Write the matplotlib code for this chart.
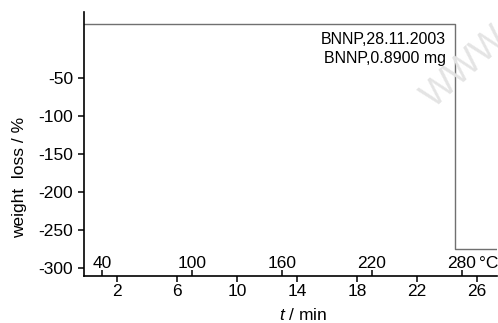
import matplotlib
matplotlib.use('Agg')
import matplotlib.pyplot as plt
from matplotlib import font_manager

# TG trace (time in min, weight loss in %)
time_min = [-0.2, 24.5, 24.5, 27.3]
weight_loss = [21, 21, -275, -275]

x_ticks = [2, 6, 10, 14, 18, 22, 26]
y_ticks = [-50, -100, -150, -200, -250, -300]

# temperature scale (heating 10 K/min, 40 degC at t = 1 min)
temp_ticks = [40, 100, 160, 220, 280]

info_lines = ['BNNP,28.11.2003', 'BNNP,0.8900 mg']


def pick_font():
    for name in ('Liberation Sans Narrow', 'DejaVu Sans Condensed'):
        try:
            font_manager.findfont(font_manager.FontProperties(family=name),
                                  fallback_to_default=False)
            return name
        except ValueError:
            pass
    return 'Liberation Sans'


MAIN = pick_font()
NARROW = MAIN != 'Liberation Sans'
FS = 13.5 if NARROW else 12.5
plt.rcParams['font.family'] = [MAIN, 'DejaVu Sans']
plt.rcParams['axes.unicode_minus'] = False
plt.rcParams['mathtext.fontset'] = 'custom'
plt.rcParams['mathtext.it'] = MAIN + ':italic'
plt.rcParams['mathtext.rm'] = MAIN

W, H = 498, 323
fig = plt.figure(figsize=(W / 100, H / 100), dpi=100)
ax = fig.add_axes([84 / W, (H - 276) / H, (497 - 84) / W, (276 - 12) / H])

ax.plot(time_min, weight_loss, color='#707070', linewidth=1.0)

ax.set_xlim(-0.2, 27.33)
ax.set_ylim(-310.5, 36.8)
for s in ('top', 'right'):
    ax.spines[s].set_visible(False)
for s in ('left', 'bottom'):
    ax.spines[s].set_linewidth(1.2)

ax.set_xticks(x_ticks)
ax.set_yticks(y_ticks)
ax.tick_params(axis='both', labelsize=FS, length=4, width=1.1)
ax.tick_params(axis='x', pad=2)
ax.tick_params(axis='y', pad=4)

# temperature ticks pointing inward, labels just above the axis
sec = ax.secondary_xaxis('bottom', functions=(lambda t: 10 * t + 30, lambda T: (T - 30) / 10))
sec.set_xticks(temp_ticks)
sec.tick_params(direction='in', length=4, width=1.1, labelbottom=False)
sec.spines['bottom'].set_visible(False)
for T in temp_ticks:
    ax.text((T - 30) / 10, -300.5, str(T), ha='center', va='baseline', fontsize=FS)
ax.annotate('°C', xy=((temp_ticks[-1] - 30) / 10, -300.5), xytext=(12, 0),
            textcoords='offset points', ha='left', va='baseline', fontsize=FS)

ax.set_ylabel('weight  loss / %', fontsize=FS)
ax.yaxis.set_label_coords(-0.138, 0.375)
ax.set_xlabel('$t$ / min', fontsize=FS)
ax.xaxis.set_label_coords(0.53, -0.118)

ax.text(0.877, 0.925, '\n'.join(info_lines), transform=ax.transAxes,
        ha='right', va='top', fontsize=13 if NARROW else 11.5, linespacing=1.35)

# faint watermark, partly off the right edge as in the source image
fig.text(0.935, 0.79, 'WWW', rotation=42, fontsize=26, color='#e4e4e4',
         ha='center', va='center', zorder=0)

fig.savefig('out.png', dpi=100)
